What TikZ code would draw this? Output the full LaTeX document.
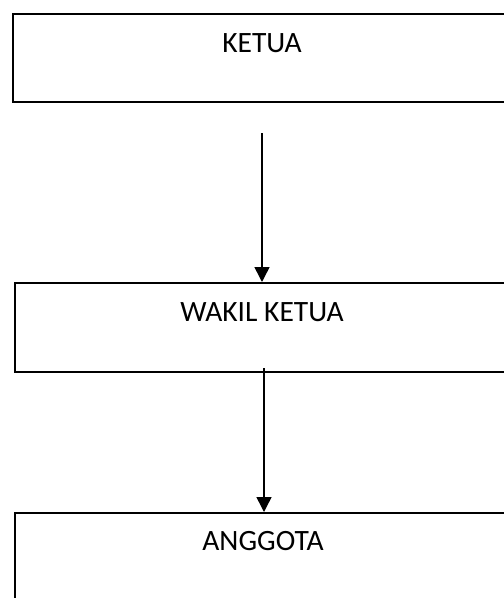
\documentclass[tikz,border=0pt]{standalone}
\usepackage{fontspec}
\setmainfont{Carlito}
\usetikzlibrary{arrows.meta}
\begin{document}
\begin{tikzpicture}[x=1pt,y=-1pt,
  box/.style={draw, line width=1.6pt, rectangle, inner sep=0pt, minimum width=508pt, anchor=north west},
  lbl/.style={font=\fontsize{29.5}{32}\selectfont, inner sep=0pt, anchor=center},
  arr/.style={line width=1.5pt, -{Triangle[width=15pt,length=15pt]}}]
\useasboundingbox (0,0) rectangle (504,598);
\clip (0,0) rectangle (504,598);
\node[box, minimum height=88pt] (k) at (12,13) {};
\node[box, minimum height=89pt] (w) at (14,282) {};
\node[box, minimum height=110pt] (g) at (14,512) {};
\node[lbl] (kt) at (262,43) {KETUA};
\node[lbl] (wt) at (262,312) {WAKIL KETUA};
\node[lbl] (gt) at (263,541) {ANGGOTA};
\coordinate (a1) at (262,133);
\coordinate (a2) at (264,368);
\draw[arr] (a1) -- (a1 |- w.north);
\draw[arr] (a2) -- (a2 |- g.north);
\end{tikzpicture}
\end{document}
